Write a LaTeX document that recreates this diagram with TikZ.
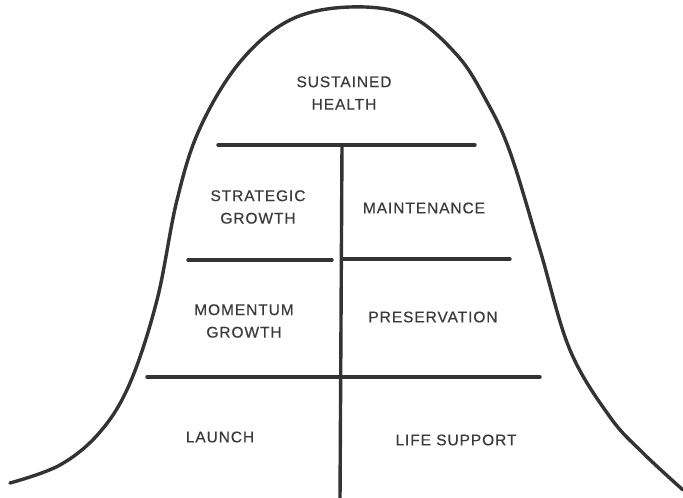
\documentclass[tikz,border=0pt]{standalone}
\usepackage{fontspec}
\setmainfont[LetterSpace=6,FakeBold=0.4]{Liberation Sans}
\definecolor{ink}{HTML}{333333}
\definecolor{txt}{HTML}{3A3A3A}
\begin{document}
\begin{tikzpicture}[x=1pt,y=-1pt,
  stroke/.style={draw=ink,line width=3.4pt,line cap=round,line join=round},
  lbl/.style={text=txt,font=\fontsize{15.5}{22.5}\selectfont,align=center,inner sep=0pt}]
\useasboundingbox[fill=white] (0,0) rectangle (683,498);
% bell curve
\draw[stroke] plot[smooth,tension=0.6] coordinates {
 (10,483) (60,465) (100,432) (130,383) (157,300) (177,200) (200,128)
 (240,62) (290,20) (350,7) (410,16) (457,55) (486,100) (510,152)
 (540,250) (570,350) (610,417) (643,453) (683,490)};
% grid lines
\coordinate (t1) at (218,145); \coordinate (t2) at (475,145);
\coordinate (v1) at (342,145); \coordinate (v2) at (340,500);
\coordinate (l1) at (188,260); \coordinate (l2) at (332,260);
\coordinate (r1) at (343,259); \coordinate (r2) at (510,259);
\coordinate (b1) at (147,377); \coordinate (b2) at (540,377);
\draw[stroke] (t1) -- (t2);
\draw[stroke] (v1) -- (v2);
\draw[stroke] (l1) -- (l2);
\draw[stroke] (r1) -- (r2);
\draw[stroke] (b1) -- (b2);
% labels
\node[lbl] (sh) at (344,93) {SUSTAINED\\HEALTH};
\node[lbl] (sg) at (258,207) {STRATEGIC\\GROWTH};
\node[lbl] (mt) at (424,208) {MAINTENANCE};
\node[lbl] (mg) at (244,321) {MOMENTUM\\GROWTH};
\node[lbl] (pr) at (433,317) {PRESERVATION};
\node[lbl] (la) at (220,437) {LAUNCH};
\node[lbl] (ls) at (456,440) {LIFE SUPPORT};
\end{tikzpicture}
\end{document}
